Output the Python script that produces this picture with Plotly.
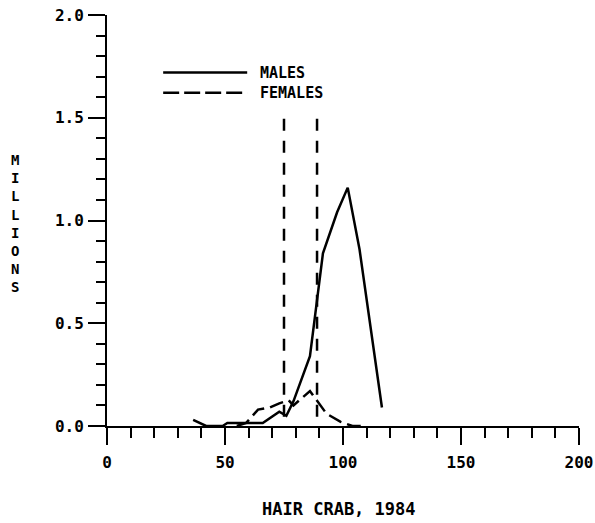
import plotly.graph_objects as go

# Hair crab 1984 length-frequency (carapace length, mm) in millions
male_size = [36.5, 42, 49, 51, 66, 73, 76, 79, 86, 91.5, 97.5, 102, 107, 116.5]
male_millions = [0.03, 0.0, 0.0, 0.015, 0.015, 0.07, 0.05, 0.12, 0.34, 0.84, 1.04, 1.16, 0.86, 0.09]

female_size = [55, 59, 64, 69, 73, 77, 79, 86, 93, 99, 104, 110]
female_millions = [0.0, 0.015, 0.08, 0.09, 0.11, 0.125, 0.10, 0.17, 0.06, 0.02, 0.0, 0.0]

# reference size limits drawn as vertical dashed markers
limit_sizes = [75, 89]
limit_span = [0.045, 1.52]

x_ticks = [0, 50, 100, 150, 200]
x_labels = ["0", "50", "100", "150", "200"]
y_ticks = [0.0, 0.5, 1.0, 1.5, 2.0]
y_labels = ["0.0", "0.5", "1.0", "1.5", "2.0"]

FONT = "DejaVu Sans Mono"

fig = go.Figure()
fig.add_trace(go.Scatter(x=male_size, y=male_millions, mode="lines",
                         line=dict(color="black", width=2.5), name="MALES",
                         showlegend=False))
fig.add_trace(go.Scatter(x=female_size, y=female_millions, mode="lines",
                         line=dict(color="black", width=2.5, dash="14px,6px"),
                         name="FEMALES", showlegend=False))
for xs in limit_sizes:
    fig.add_trace(go.Scatter(x=[xs, xs], y=limit_span, mode="lines",
                             line=dict(color="black", width=2.5, dash="12px,10px"),
                             showlegend=False))

# hand-drawn key
key = [("MALES", "solid", 0.860), ("FEMALES", "16px,5px", 0.811)]
for label, dash, ky in key:
    fig.add_shape(type="line", xref="paper", yref="paper",
                  x0=0.119, x1=0.297, y0=ky, y1=ky,
                  line=dict(color="black", width=2.5, dash=dash))
    fig.add_annotation(text=label, xref="paper", yref="paper", x=0.32, y=ky,
                       xanchor="left", yanchor="middle", showarrow=False,
                       font=dict(family=FONT, size=15, color="black", weight="bold"))

# stacked vertical axis title
fig.add_annotation(text="<br>".join("MILLIONS"), xref="paper", yref="paper",
                   x=-0.195, y=0.493, xanchor="center", yanchor="middle",
                   showarrow=False, align="center",
                   font=dict(family=FONT, size=14, color="black", weight="bold"))
# caption under the axis
fig.add_annotation(text="HAIR CRAB, 1984", xref="paper", yref="paper",
                   x=0.4915, y=-0.202, xanchor="center", yanchor="middle",
                   showarrow=False,
                   font=dict(family=FONT, size=17, color="black", weight="bold"))

tickfont = dict(family=FONT, size=16, color="black", weight="bold")
fig.update_xaxes(range=[0, 200], tickvals=x_ticks, ticktext=x_labels,
                 automargin=False,
                 showgrid=False, zeroline=False, showline=True,
                 linecolor="black", linewidth=2, ticks="outside",
                 ticklen=17, tickwidth=2, tickcolor="black", tickfont=tickfont,
                 ticklabelstandoff=4,
                 minor=dict(dtick=10, ticks="outside", ticklen=10,
                            tickwidth=2, tickcolor="black", showgrid=False))
fig.update_yaxes(range=[0, 2], tickvals=y_ticks, ticktext=y_labels,
                 automargin=False,
                 showgrid=False, zeroline=False, showline=True,
                 linecolor="black", linewidth=2, ticks="outside",
                 ticklen=17, tickwidth=2, tickcolor="black", tickfont=tickfont,
                 ticklabelstandoff=1,
                 minor=dict(dtick=0.1, ticks="outside", ticklen=9,
                            tickwidth=2, tickcolor="black", showgrid=False))

fig.update_layout(width=595, height=523, paper_bgcolor="white",
                  plot_bgcolor="white",
                  margin=dict(l=107, r=16, t=15, b=97, pad=0))

fig.write_html("out.html")
